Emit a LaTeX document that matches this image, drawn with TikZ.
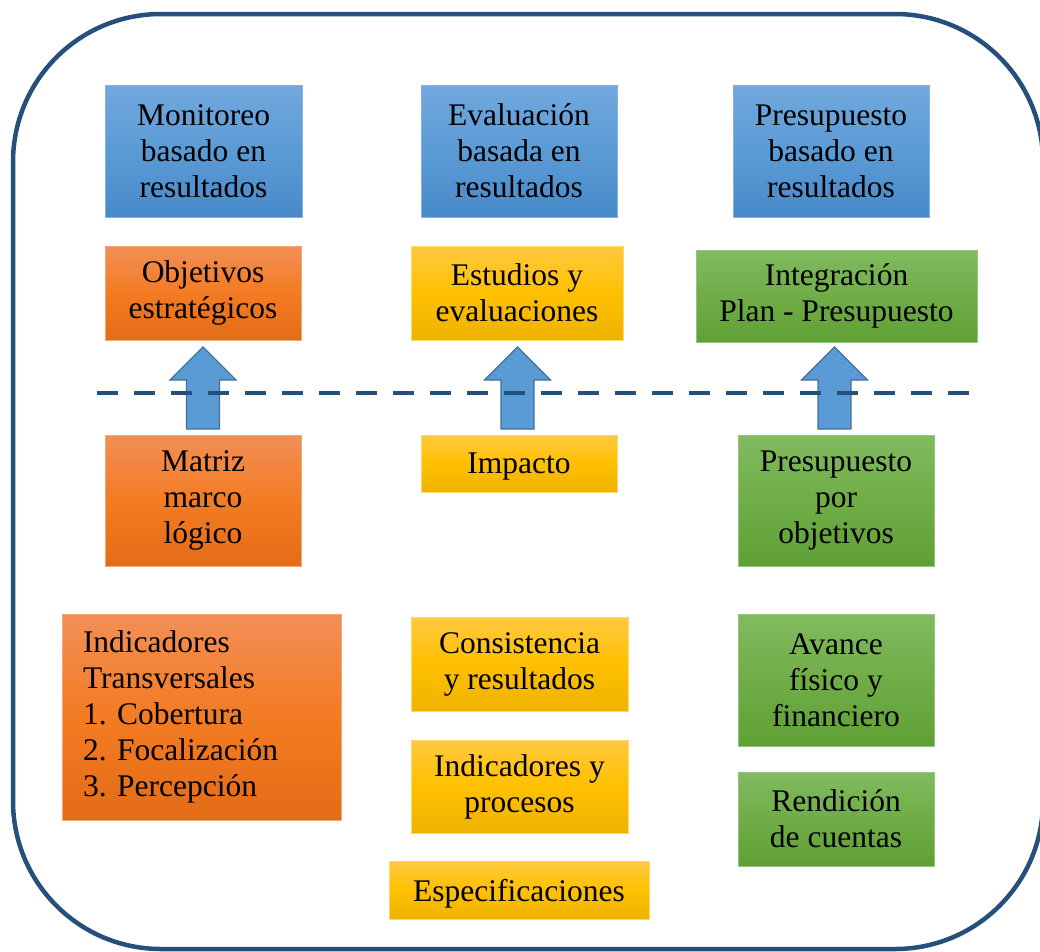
\documentclass[tikz,border=0pt]{standalone}
\usepackage{fontspec}
\setmainfont{Liberation Serif}
\frenchspacing
\definecolor{frameblue}{HTML}{24507B}
\definecolor{bTop}{HTML}{72A8DE}\definecolor{bMid}{HTML}{5B9BD5}\definecolor{bBot}{HTML}{4889C9}\definecolor{bLine}{HTML}{84B4E2}
\definecolor{oTop}{HTML}{F28F57}\definecolor{oMid}{HTML}{F37B22}\definecolor{oBot}{HTML}{E46C17}\definecolor{oLine}{HTML}{F5A677}
\definecolor{yTop}{HTML}{FFC941}\definecolor{yMid}{HTML}{FFC000}\definecolor{yBot}{HTML}{EEB300}\definecolor{yLine}{HTML}{FFD966}
\definecolor{gTop}{HTML}{80BB60}\definecolor{gMid}{HTML}{70AD47}\definecolor{gBot}{HTML}{5FA035}\definecolor{gLine}{HTML}{95C57C}
\definecolor{arFill}{HTML}{5B9BD5}\definecolor{arLine}{HTML}{41719C}
\tikzset{
  basebox/.style={rectangle, inner sep=0pt, align=center, line width=0.9pt,
    font=\fontsize{31.5}{36}\selectfont},
  bluebox/.style={basebox, draw=bLine, top color=bTop, bottom color=bBot, middle color=bMid},
  orangebox/.style={basebox, draw=oLine, top color=oTop, bottom color=oBot, middle color=oMid},
  yellowbox/.style={basebox, draw=yLine, top color=yTop, bottom color=yBot, middle color=yMid},
  greenbox/.style={basebox, draw=gLine, top color=gTop, bottom color=gBot, middle color=gMid},
  blockarrow/.style={fill=arFill, draw=arLine, line width=1.3pt, line join=miter},
  framestyle/.style={draw=frameblue, line width=4.5pt, rounded corners=148pt},
  dividerline/.style={draw=frameblue, line width=4pt, dash pattern=on 21pt off 16pt}
}
\begin{document}
\begin{tikzpicture}[x=1pt,y=-1pt]
\useasboundingbox (0,0) rectangle (1040,951);
\clip (0,0) rectangle (1040,951);
\draw[framestyle] (13,14) rectangle (1043,949);
% top row
\node[bluebox, minimum width=197pt, minimum height=132pt] (m1) at (203.5,151) {Monitoreo\\basado en\\resultados};
\node[bluebox, minimum width=196pt, minimum height=132pt] (m2) at (519,151) {Evaluación\\basada en\\resultados};
\node[bluebox, minimum width=196pt, minimum height=132pt] (m3) at (831,151) {Presupuesto\\basado en\\resultados};
% second row
\node[orangebox, minimum width=196pt, minimum height=94pt] (o1) at (203,293) {Objetivos\\estratégicos};
\node[yellowbox, minimum width=212pt, minimum height=94pt] (e1) at (517,293) {Estudios y\\evaluaciones};
\node[greenbox, minimum width=281pt, minimum height=92pt] (g1) at (836.5,296) {Integración\\Plan - Presupuesto};
% block arrows
\draw[blockarrow] (203,347) -- ++(33,33) -- ++(-16.5,0) -- ++(0,49) -- ++(-33,0) -- ++(0,-49) -- ++(-16.5,0) -- cycle;
\draw[blockarrow] (517.5,347) -- ++(33,33) -- ++(-16.5,0) -- ++(0,49) -- ++(-33,0) -- ++(0,-49) -- ++(-16.5,0) -- cycle;
\draw[blockarrow] (834.5,347) -- ++(33,33) -- ++(-16.5,0) -- ++(0,49) -- ++(-33,0) -- ++(0,-49) -- ++(-16.5,0) -- cycle;
% divider
\coordinate (dl) at (97,393);
\coordinate (dr) at (975,393);
\draw[dividerline] (dl) -- (dr);
% third row
\node[orangebox, minimum width=196pt, minimum height=131pt] (o2) at (203,500.5) {Matriz\\marco\\lógico};
\node[yellowbox, minimum width=196pt, minimum height=57pt, text depth=0pt] (e2) at (519,463.5) {Impacto};
\node[greenbox, minimum width=196pt, minimum height=131pt] (g2) at (836,500.5) {Presupuesto\\por\\objetivos};
% lower rows
\node[orangebox, minimum width=279pt, minimum height=206pt, text width=237pt, inner xsep=21pt, align=left] (o3) at (201.5,717) {Indicadores\\Transversales\\1. Cobertura\\2. Focalización\\3. Percepción};
\node[yellowbox, minimum width=217pt, minimum height=94pt] (e3) at (519.5,664) {Consistencia\\y resultados};
\node[yellowbox, minimum width=217pt, minimum height=93pt] (e4) at (519.5,786.5) {Indicadores y\\procesos};
\node[yellowbox, minimum width=260pt, minimum height=58pt, text depth=0pt] (e5) at (519,890) {Especificaciones};
\node[greenbox, minimum width=196pt, minimum height=132pt] (g3) at (836,680) {Avance\\físico y\\financiero};
\node[greenbox, minimum width=196pt, minimum height=94pt] (g4) at (836,819) {Rendición\\de cuentas};
\end{tikzpicture}
\end{document}
